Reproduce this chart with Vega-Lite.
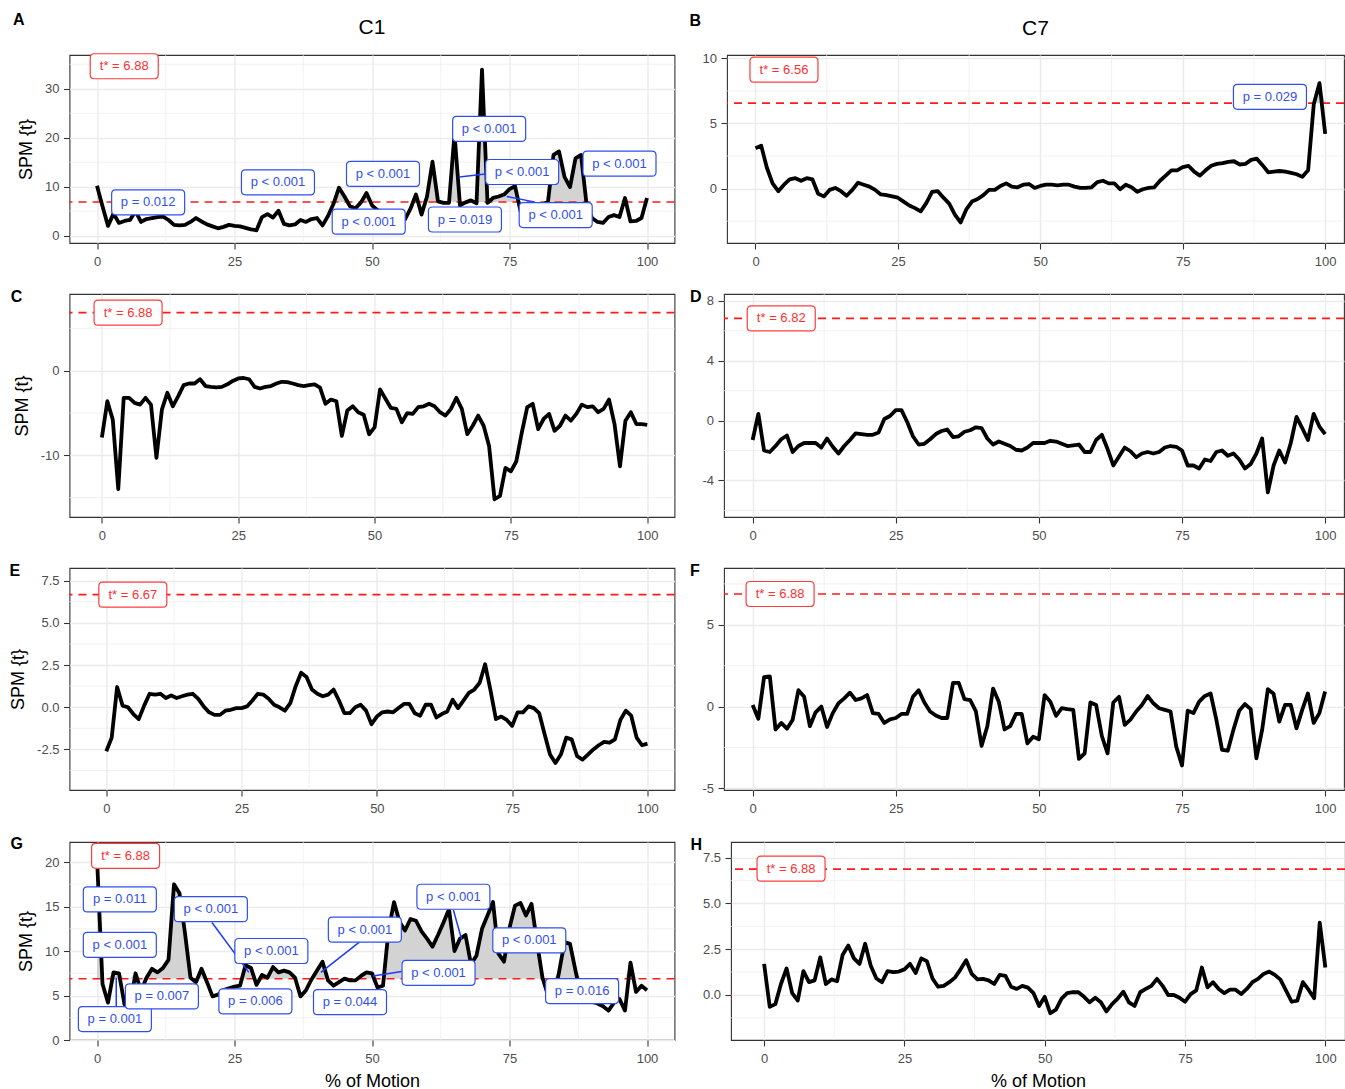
{
"$schema": "https://vega.github.io/schema/vega-lite/v6.json",
"background": "white",
"padding": {"left": 8.5, "top": 11, "right": 0, "bottom": 0},
"spacing": 19,
"align": "none",
"datasets": {
"A": [{"x":0,"t":10.2},{"x":1,"t":6.0},{"x":2,"t":2.0},{"x":3,"t":4.5},{"x":4,"t":2.6},{"x":5,"t":3.0},{"x":6,"t":3.2},{"x":7,"t":5.0},{"x":8,"t":2.8},{"x":9,"t":3.4},{"x":10,"t":3.6},{"x":11,"t":3.8},{"x":12,"t":3.9},{"x":13,"t":3.2},{"x":14,"t":2.2},{"x":15,"t":2.1},{"x":16,"t":2.2},{"x":17,"t":2.8},{"x":18,"t":3.6},{"x":19,"t":2.9},{"x":20,"t":2.3},{"x":21,"t":1.9},{"x":22,"t":1.5},{"x":23,"t":1.8},{"x":24,"t":2.2},{"x":25,"t":2.0},{"x":26,"t":1.9},{"x":27,"t":1.6},{"x":28,"t":1.3},{"x":29,"t":1.1},{"x":30,"t":3.8},{"x":31,"t":4.4},{"x":32,"t":3.7},{"x":33,"t":5.1},{"x":34,"t":2.4},{"x":35,"t":2.1},{"x":36,"t":2.3},{"x":37,"t":3.2},{"x":38,"t":2.8},{"x":39,"t":3.4},{"x":40,"t":3.6},{"x":41,"t":2.1},{"x":42,"t":4.0},{"x":43,"t":6.5},{"x":44,"t":9.8},{"x":45,"t":8.0},{"x":46,"t":6.0},{"x":47,"t":5.6},{"x":48,"t":6.8},{"x":49,"t":8.7},{"x":50,"t":6.2},{"x":51,"t":5.2},{"x":52,"t":4.5},{"x":53,"t":3.8},{"x":54,"t":3.5},{"x":55,"t":3.2},{"x":56,"t":3.3},{"x":57,"t":5.5},{"x":58,"t":8.4},{"x":59,"t":4.3},{"x":60,"t":8.0},{"x":61,"t":15.1},{"x":62,"t":7.0},{"x":63,"t":6.7},{"x":64,"t":6.7},{"x":65,"t":20.8},{"x":66,"t":6.2},{"x":67,"t":6.8},{"x":68,"t":7.2},{"x":69,"t":6.6},{"x":70,"t":33.9},{"x":71,"t":6.7},{"x":72,"t":7.7},{"x":73,"t":8.0},{"x":74,"t":8.4},{"x":75,"t":9.5},{"x":76,"t":10.1},{"x":77,"t":5.0},{"x":78,"t":6.0},{"x":79,"t":5.5},{"x":80,"t":5.3},{"x":81,"t":6.2},{"x":82,"t":7.0},{"x":83,"t":16.5},{"x":84,"t":17.2},{"x":85,"t":12.0},{"x":86,"t":9.9},{"x":87,"t":15.8},{"x":88,"t":16.5},{"x":89,"t":6.5},{"x":90,"t":3.6},{"x":91,"t":2.8},{"x":92,"t":2.6},{"x":93,"t":3.8},{"x":94,"t":4.2},{"x":95,"t":3.8},{"x":96,"t":7.7},{"x":97,"t":2.9},{"x":98,"t":3.0},{"x":99,"t":3.6},{"x":100,"t":7.7}],
"B": [{"x":0,"t":3.1},{"x":1,"t":3.3},{"x":2,"t":1.6},{"x":3,"t":0.4},{"x":4,"t":-0.2},{"x":5,"t":0.3},{"x":6,"t":0.7},{"x":7,"t":0.8},{"x":8,"t":0.6},{"x":9,"t":0.8},{"x":10,"t":0.7},{"x":11,"t":-0.4},{"x":12,"t":-0.6},{"x":13,"t":-0.1},{"x":14,"t":0.05},{"x":15,"t":-0.2},{"x":16,"t":-0.55},{"x":17,"t":-0.1},{"x":18,"t":0.45},{"x":19,"t":0.3},{"x":20,"t":0.15},{"x":21,"t":-0.1},{"x":22,"t":-0.45},{"x":23,"t":-0.5},{"x":24,"t":-0.6},{"x":25,"t":-0.7},{"x":26,"t":-1.0},{"x":27,"t":-1.3},{"x":28,"t":-1.5},{"x":29,"t":-1.75},{"x":30,"t":-1.1},{"x":31,"t":-0.25},{"x":32,"t":-0.2},{"x":33,"t":-0.7},{"x":34,"t":-1.15},{"x":35,"t":-2.0},{"x":36,"t":-2.6},{"x":37,"t":-1.6},{"x":38,"t":-1.0},{"x":39,"t":-0.8},{"x":40,"t":-0.5},{"x":41,"t":-0.1},{"x":42,"t":-0.1},{"x":43,"t":0.2},{"x":44,"t":0.4},{"x":45,"t":0.15},{"x":46,"t":0.1},{"x":47,"t":0.3},{"x":48,"t":0.35},{"x":49,"t":0.05},{"x":50,"t":0.2},{"x":51,"t":0.3},{"x":52,"t":0.3},{"x":53,"t":0.25},{"x":54,"t":0.3},{"x":55,"t":0.3},{"x":56,"t":0.15},{"x":57,"t":0.05},{"x":58,"t":0.05},{"x":59,"t":0.1},{"x":60,"t":0.5},{"x":61,"t":0.6},{"x":62,"t":0.4},{"x":63,"t":0.4},{"x":64,"t":-0.05},{"x":65,"t":0.3},{"x":66,"t":0.1},{"x":67,"t":-0.25},{"x":68,"t":-0.05},{"x":69,"t":0.05},{"x":70,"t":0.1},{"x":71,"t":0.6},{"x":72,"t":1.0},{"x":73,"t":1.4},{"x":74,"t":1.4},{"x":75,"t":1.65},{"x":76,"t":1.75},{"x":77,"t":1.3},{"x":78,"t":1.0},{"x":79,"t":1.4},{"x":80,"t":1.75},{"x":81,"t":1.9},{"x":82,"t":1.95},{"x":83,"t":2.05},{"x":84,"t":2.1},{"x":85,"t":1.85},{"x":86,"t":1.9},{"x":87,"t":2.2},{"x":88,"t":2.3},{"x":89,"t":1.8},{"x":90,"t":1.25},{"x":91,"t":1.3},{"x":92,"t":1.35},{"x":93,"t":1.3},{"x":94,"t":1.2},{"x":95,"t":1.1},{"x":96,"t":0.9},{"x":97,"t":1.4},{"x":98,"t":6.5},{"x":99,"t":8.1},{"x":100,"t":4.2}],
"C": [{"x":0,"t":-7.9},{"x":1,"t":-3.6},{"x":2,"t":-5.8},{"x":3,"t":-14.0},{"x":4,"t":-3.2},{"x":5,"t":-3.2},{"x":6,"t":-3.8},{"x":7,"t":-4.0},{"x":8,"t":-3.2},{"x":9,"t":-4.0},{"x":10,"t":-10.3},{"x":11,"t":-4.6},{"x":12,"t":-2.6},{"x":13,"t":-4.2},{"x":14,"t":-3.0},{"x":15,"t":-1.7},{"x":16,"t":-1.5},{"x":17,"t":-1.5},{"x":18,"t":-1.0},{"x":19,"t":-1.8},{"x":20,"t":-1.9},{"x":21,"t":-1.95},{"x":22,"t":-1.9},{"x":23,"t":-1.6},{"x":24,"t":-1.2},{"x":25,"t":-0.9},{"x":26,"t":-0.85},{"x":27,"t":-1.0},{"x":28,"t":-1.9},{"x":29,"t":-2.1},{"x":30,"t":-1.9},{"x":31,"t":-1.8},{"x":32,"t":-1.5},{"x":33,"t":-1.3},{"x":34,"t":-1.35},{"x":35,"t":-1.5},{"x":36,"t":-1.7},{"x":37,"t":-1.8},{"x":38,"t":-1.7},{"x":39,"t":-1.6},{"x":40,"t":-2.0},{"x":41,"t":-3.9},{"x":42,"t":-3.4},{"x":43,"t":-3.6},{"x":44,"t":-7.7},{"x":45,"t":-4.7},{"x":46,"t":-4.2},{"x":47,"t":-4.9},{"x":48,"t":-5.2},{"x":49,"t":-7.5},{"x":50,"t":-6.7},{"x":51,"t":-2.2},{"x":52,"t":-3.3},{"x":53,"t":-4.4},{"x":54,"t":-4.5},{"x":55,"t":-6.1},{"x":56,"t":-5.0},{"x":57,"t":-5.1},{"x":58,"t":-4.3},{"x":59,"t":-4.2},{"x":60,"t":-3.9},{"x":61,"t":-4.2},{"x":62,"t":-4.9},{"x":63,"t":-5.3},{"x":64,"t":-4.5},{"x":65,"t":-3.2},{"x":66,"t":-4.5},{"x":67,"t":-7.5},{"x":68,"t":-6.5},{"x":69,"t":-5.3},{"x":70,"t":-6.5},{"x":71,"t":-8.9},{"x":72,"t":-15.2},{"x":73,"t":-14.8},{"x":74,"t":-11.5},{"x":75,"t":-11.9},{"x":76,"t":-10.7},{"x":77,"t":-7.3},{"x":78,"t":-4.3},{"x":79,"t":-3.9},{"x":80,"t":-6.9},{"x":81,"t":-5.7},{"x":82,"t":-5.1},{"x":83,"t":-7.1},{"x":84,"t":-6.5},{"x":85,"t":-5.3},{"x":86,"t":-5.9},{"x":87,"t":-5.1},{"x":88,"t":-4.0},{"x":89,"t":-4.3},{"x":90,"t":-4.2},{"x":91,"t":-4.9},{"x":92,"t":-4.5},{"x":93,"t":-3.4},{"x":94,"t":-6.3},{"x":95,"t":-11.3},{"x":96,"t":-5.9},{"x":97,"t":-4.9},{"x":98,"t":-6.3},{"x":99,"t":-6.3},{"x":100,"t":-6.4}],
"D": [{"x":0,"t":-1.3},{"x":1,"t":0.45},{"x":2,"t":-2.0},{"x":3,"t":-2.1},{"x":4,"t":-1.7},{"x":5,"t":-1.25},{"x":6,"t":-1.0},{"x":7,"t":-2.1},{"x":8,"t":-1.7},{"x":9,"t":-1.5},{"x":10,"t":-1.5},{"x":11,"t":-1.5},{"x":12,"t":-1.8},{"x":13,"t":-1.2},{"x":14,"t":-1.75},{"x":15,"t":-2.2},{"x":16,"t":-1.7},{"x":17,"t":-1.3},{"x":18,"t":-0.85},{"x":19,"t":-0.9},{"x":20,"t":-0.95},{"x":21,"t":-0.95},{"x":22,"t":-0.8},{"x":23,"t":0.1},{"x":24,"t":0.3},{"x":25,"t":0.7},{"x":26,"t":0.7},{"x":27,"t":-0.1},{"x":28,"t":-1.05},{"x":29,"t":-1.6},{"x":30,"t":-1.55},{"x":31,"t":-1.25},{"x":32,"t":-0.9},{"x":33,"t":-0.7},{"x":34,"t":-0.6},{"x":35,"t":-1.1},{"x":36,"t":-1.05},{"x":37,"t":-0.75},{"x":38,"t":-0.65},{"x":39,"t":-0.45},{"x":40,"t":-0.5},{"x":41,"t":-1.2},{"x":42,"t":-1.6},{"x":43,"t":-1.4},{"x":44,"t":-1.55},{"x":45,"t":-1.7},{"x":46,"t":-1.95},{"x":47,"t":-2.0},{"x":48,"t":-1.8},{"x":49,"t":-1.5},{"x":50,"t":-1.5},{"x":51,"t":-1.5},{"x":52,"t":-1.35},{"x":53,"t":-1.4},{"x":54,"t":-1.55},{"x":55,"t":-1.7},{"x":56,"t":-1.65},{"x":57,"t":-1.6},{"x":58,"t":-2.1},{"x":59,"t":-2.1},{"x":60,"t":-1.3},{"x":61,"t":-0.95},{"x":62,"t":-1.9},{"x":63,"t":-3.0},{"x":64,"t":-2.4},{"x":65,"t":-1.8},{"x":66,"t":-2.05},{"x":67,"t":-2.45},{"x":68,"t":-2.2},{"x":69,"t":-2.1},{"x":70,"t":-2.2},{"x":71,"t":-2.1},{"x":72,"t":-1.8},{"x":73,"t":-1.7},{"x":74,"t":-1.75},{"x":75,"t":-2.0},{"x":76,"t":-3.0},{"x":77,"t":-3.0},{"x":78,"t":-3.2},{"x":79,"t":-2.6},{"x":80,"t":-2.7},{"x":81,"t":-2.1},{"x":82,"t":-2.0},{"x":83,"t":-2.35},{"x":84,"t":-2.2},{"x":85,"t":-2.6},{"x":86,"t":-3.2},{"x":87,"t":-2.9},{"x":88,"t":-2.2},{"x":89,"t":-1.2},{"x":90,"t":-4.8},{"x":91,"t":-3.0},{"x":92,"t":-2.0},{"x":93,"t":-2.8},{"x":94,"t":-1.5},{"x":95,"t":0.25},{"x":96,"t":-0.5},{"x":97,"t":-1.3},{"x":98,"t":0.45},{"x":99,"t":-0.4},{"x":100,"t":-0.9}],
"E": [{"x":0,"t":-2.6},{"x":1,"t":-1.8},{"x":2,"t":1.2},{"x":3,"t":0.1},{"x":4,"t":0.0},{"x":5,"t":-0.4},{"x":6,"t":-0.7},{"x":7,"t":0.1},{"x":8,"t":0.8},{"x":9,"t":0.75},{"x":10,"t":0.8},{"x":11,"t":0.55},{"x":12,"t":0.7},{"x":13,"t":0.55},{"x":14,"t":0.65},{"x":15,"t":0.75},{"x":16,"t":0.8},{"x":17,"t":0.5},{"x":18,"t":0.05},{"x":19,"t":-0.3},{"x":20,"t":-0.45},{"x":21,"t":-0.45},{"x":22,"t":-0.2},{"x":23,"t":-0.15},{"x":24,"t":-0.05},{"x":25,"t":-0.05},{"x":26,"t":0.05},{"x":27,"t":0.4},{"x":28,"t":0.8},{"x":29,"t":0.75},{"x":30,"t":0.5},{"x":31,"t":0.15},{"x":32,"t":0.0},{"x":33,"t":-0.2},{"x":34,"t":0.25},{"x":35,"t":1.25},{"x":36,"t":2.05},{"x":37,"t":1.8},{"x":38,"t":1.05},{"x":39,"t":0.8},{"x":40,"t":0.65},{"x":41,"t":0.75},{"x":42,"t":1.05},{"x":43,"t":0.4},{"x":44,"t":-0.35},{"x":45,"t":-0.35},{"x":46,"t":0.0},{"x":47,"t":0.15},{"x":48,"t":-0.2},{"x":49,"t":-1.0},{"x":50,"t":-0.55},{"x":51,"t":-0.3},{"x":52,"t":-0.25},{"x":53,"t":-0.3},{"x":54,"t":-0.05},{"x":55,"t":0.2},{"x":56,"t":0.2},{"x":57,"t":-0.35},{"x":58,"t":-0.5},{"x":59,"t":0.15},{"x":60,"t":0.15},{"x":61,"t":-0.6},{"x":62,"t":-0.4},{"x":63,"t":-0.25},{"x":64,"t":0.45},{"x":65,"t":-0.05},{"x":66,"t":0.4},{"x":67,"t":0.85},{"x":68,"t":1.05},{"x":69,"t":1.45},{"x":70,"t":2.55},{"x":71,"t":1.0},{"x":72,"t":-0.7},{"x":73,"t":-0.55},{"x":74,"t":-0.75},{"x":75,"t":-1.1},{"x":76,"t":-0.3},{"x":77,"t":-0.3},{"x":78,"t":0.05},{"x":79,"t":-0.05},{"x":80,"t":-0.35},{"x":81,"t":-1.6},{"x":82,"t":-2.8},{"x":83,"t":-3.3},{"x":84,"t":-2.8},{"x":85,"t":-1.8},{"x":86,"t":-1.9},{"x":87,"t":-2.9},{"x":88,"t":-3.1},{"x":89,"t":-2.8},{"x":90,"t":-2.5},{"x":91,"t":-2.25},{"x":92,"t":-2.05},{"x":93,"t":-2.1},{"x":94,"t":-1.9},{"x":95,"t":-0.75},{"x":96,"t":-0.2},{"x":97,"t":-0.5},{"x":98,"t":-1.8},{"x":99,"t":-2.25},{"x":100,"t":-2.15}],
"F": [{"x":0,"t":0.1},{"x":1,"t":-0.75},{"x":2,"t":1.8},{"x":3,"t":1.85},{"x":4,"t":-1.4},{"x":5,"t":-1.0},{"x":6,"t":-1.35},{"x":7,"t":-0.8},{"x":8,"t":1.0},{"x":9,"t":0.6},{"x":10,"t":-1.2},{"x":11,"t":-0.35},{"x":12,"t":0.0},{"x":13,"t":-1.25},{"x":14,"t":-0.4},{"x":15,"t":0.2},{"x":16,"t":0.5},{"x":17,"t":0.85},{"x":18,"t":0.4},{"x":19,"t":0.5},{"x":20,"t":0.7},{"x":21,"t":-0.4},{"x":22,"t":-0.45},{"x":23,"t":-1.0},{"x":24,"t":-0.78},{"x":25,"t":-0.7},{"x":26,"t":-0.45},{"x":27,"t":-0.45},{"x":28,"t":0.6},{"x":29,"t":1.0},{"x":30,"t":0.25},{"x":31,"t":-0.3},{"x":32,"t":-0.55},{"x":33,"t":-0.7},{"x":34,"t":-0.7},{"x":35,"t":1.45},{"x":36,"t":1.45},{"x":37,"t":0.45},{"x":38,"t":0.4},{"x":39,"t":-0.3},{"x":40,"t":-2.4},{"x":41,"t":-1.2},{"x":42,"t":1.1},{"x":43,"t":0.3},{"x":44,"t":-1.4},{"x":45,"t":-1.2},{"x":46,"t":-0.45},{"x":47,"t":-0.45},{"x":48,"t":-2.25},{"x":49,"t":-1.84},{"x":50,"t":-2.0},{"x":51,"t":0.7},{"x":52,"t":0.3},{"x":53,"t":-0.57},{"x":54,"t":-0.1},{"x":55,"t":-0.16},{"x":56,"t":-0.2},{"x":57,"t":-3.2},{"x":58,"t":-2.86},{"x":59,"t":0.25},{"x":60,"t":0.1},{"x":61,"t":-1.8},{"x":62,"t":-2.86},{"x":63,"t":0.25},{"x":64,"t":0.6},{"x":65,"t":-1.12},{"x":66,"t":-0.8},{"x":67,"t":-0.3},{"x":68,"t":0.1},{"x":69,"t":0.65},{"x":70,"t":0.2},{"x":71,"t":-0.1},{"x":72,"t":-0.2},{"x":73,"t":-0.3},{"x":74,"t":-2.45},{"x":75,"t":-3.6},{"x":76,"t":-0.25},{"x":77,"t":-0.4},{"x":78,"t":0.3},{"x":79,"t":0.65},{"x":80,"t":0.8},{"x":81,"t":-0.8},{"x":82,"t":-2.65},{"x":83,"t":-2.7},{"x":84,"t":-1.4},{"x":85,"t":-0.25},{"x":86,"t":0.15},{"x":87,"t":-0.16},{"x":88,"t":-3.16},{"x":89,"t":-1.43},{"x":90,"t":1.06},{"x":91,"t":0.78},{"x":92,"t":-0.92},{"x":93,"t":0.1},{"x":94,"t":0.1},{"x":95,"t":-1.33},{"x":96,"t":-0.2},{"x":97,"t":0.8},{"x":98,"t":-1.0},{"x":99,"t":-0.4},{"x":100,"t":0.92}],
"G": [{"x":0,"t":20.5},{"x":1,"t":6.3},{"x":2,"t":4.2},{"x":3,"t":7.6},{"x":4,"t":7.5},{"x":5,"t":4.0},{"x":6,"t":3.8},{"x":7,"t":7.5},{"x":8,"t":5.5},{"x":9,"t":7.0},{"x":10,"t":8.0},{"x":11,"t":7.6},{"x":12,"t":8.1},{"x":13,"t":9.0},{"x":14,"t":17.5},{"x":15,"t":16.5},{"x":16,"t":12.0},{"x":17,"t":7.0},{"x":18,"t":6.5},{"x":19,"t":8.0},{"x":20,"t":6.5},{"x":21,"t":4.9},{"x":22,"t":5.1},{"x":23,"t":5.6},{"x":24,"t":5.8},{"x":25,"t":6.0},{"x":26,"t":6.1},{"x":27,"t":8.4},{"x":28,"t":8.1},{"x":29,"t":6.2},{"x":30,"t":7.3},{"x":31,"t":7.0},{"x":32,"t":8.2},{"x":33,"t":7.6},{"x":34,"t":7.8},{"x":35,"t":7.6},{"x":36,"t":7.0},{"x":37,"t":4.9},{"x":38,"t":5.6},{"x":39,"t":6.8},{"x":40,"t":7.8},{"x":41,"t":8.8},{"x":42,"t":6.7},{"x":43,"t":6.1},{"x":44,"t":6.5},{"x":45,"t":6.9},{"x":46,"t":6.7},{"x":47,"t":6.7},{"x":48,"t":7.2},{"x":49,"t":7.6},{"x":50,"t":7.5},{"x":51,"t":5.9},{"x":52,"t":6.1},{"x":53,"t":12.3},{"x":54,"t":15.5},{"x":55,"t":13.3},{"x":56,"t":12.3},{"x":57,"t":13.6},{"x":58,"t":13.4},{"x":59,"t":12.2},{"x":60,"t":11.4},{"x":61,"t":10.5},{"x":62,"t":11.8},{"x":63,"t":13.2},{"x":64,"t":14.7},{"x":65,"t":10.0},{"x":66,"t":11.4},{"x":67,"t":11.8},{"x":68,"t":8.5},{"x":69,"t":9.5},{"x":70,"t":12.5},{"x":71,"t":14.0},{"x":72,"t":15.5},{"x":73,"t":9.7},{"x":74,"t":8.8},{"x":75,"t":12.6},{"x":76,"t":15.1},{"x":77,"t":15.4},{"x":78,"t":14.0},{"x":79,"t":15.3},{"x":80,"t":11.0},{"x":81,"t":7.0},{"x":82,"t":5.0},{"x":83,"t":4.5},{"x":84,"t":7.6},{"x":85,"t":11.0},{"x":86,"t":10.8},{"x":87,"t":7.8},{"x":88,"t":5.0},{"x":89,"t":4.6},{"x":90,"t":4.3},{"x":91,"t":4.1},{"x":92,"t":3.8},{"x":93,"t":3.3},{"x":94,"t":4.2},{"x":95,"t":4.6},{"x":96,"t":3.3},{"x":97,"t":8.7},{"x":98,"t":5.4},{"x":99,"t":6.1},{"x":100,"t":5.6}],
"H": [{"x":0,"t":1.7},{"x":1,"t":-0.65},{"x":2,"t":-0.5},{"x":3,"t":0.6},{"x":4,"t":1.45},{"x":5,"t":0.1},{"x":6,"t":-0.3},{"x":7,"t":1.3},{"x":8,"t":0.7},{"x":9,"t":0.8},{"x":10,"t":2.05},{"x":11,"t":0.6},{"x":12,"t":0.85},{"x":13,"t":0.75},{"x":14,"t":2.2},{"x":15,"t":2.7},{"x":16,"t":2.0},{"x":17,"t":1.7},{"x":18,"t":2.8},{"x":19,"t":1.6},{"x":20,"t":0.9},{"x":21,"t":0.7},{"x":22,"t":1.3},{"x":23,"t":1.25},{"x":24,"t":1.28},{"x":25,"t":1.4},{"x":26,"t":1.7},{"x":27,"t":1.2},{"x":28,"t":2.0},{"x":29,"t":1.85},{"x":30,"t":0.9},{"x":31,"t":0.45},{"x":32,"t":0.5},{"x":33,"t":0.7},{"x":34,"t":0.95},{"x":35,"t":1.4},{"x":36,"t":1.9},{"x":37,"t":1.15},{"x":38,"t":0.85},{"x":39,"t":0.88},{"x":40,"t":0.8},{"x":41,"t":0.6},{"x":42,"t":1.1},{"x":43,"t":1.05},{"x":44,"t":0.45},{"x":45,"t":0.33},{"x":46,"t":0.5},{"x":47,"t":0.4},{"x":48,"t":0.1},{"x":49,"t":-0.6},{"x":50,"t":-0.1},{"x":51,"t":-1.0},{"x":52,"t":-0.8},{"x":53,"t":-0.2},{"x":54,"t":0.1},{"x":55,"t":0.15},{"x":56,"t":0.15},{"x":57,"t":-0.1},{"x":58,"t":-0.4},{"x":59,"t":-0.15},{"x":60,"t":-0.4},{"x":61,"t":-0.9},{"x":62,"t":-0.5},{"x":63,"t":-0.2},{"x":64,"t":0.18},{"x":65,"t":-0.4},{"x":66,"t":-0.6},{"x":67,"t":0.15},{"x":68,"t":0.33},{"x":69,"t":0.5},{"x":70,"t":0.88},{"x":71,"t":0.5},{"x":72,"t":0.0},{"x":73,"t":0.0},{"x":74,"t":-0.15},{"x":75,"t":-0.37},{"x":76,"t":0.05},{"x":77,"t":0.25},{"x":78,"t":1.5},{"x":79,"t":0.42},{"x":80,"t":0.7},{"x":81,"t":0.33},{"x":82,"t":0.1},{"x":83,"t":0.29},{"x":84,"t":0.29},{"x":85,"t":0.05},{"x":86,"t":0.33},{"x":87,"t":0.7},{"x":88,"t":0.88},{"x":89,"t":1.15},{"x":90,"t":1.28},{"x":91,"t":1.1},{"x":92,"t":0.84},{"x":93,"t":0.24},{"x":94,"t":-0.37},{"x":95,"t":-0.31},{"x":96,"t":0.7},{"x":97,"t":0.29},{"x":98,"t":-0.18},{"x":99,"t":3.95},{"x":100,"t":1.5}],
"lab": [
{"p":"A","k":"t","x":4.95,"y":34.6,"text":"t* = 6.88"},
{"p":"A","k":"p","x":9.3,"y":6.8,"text":"p = 0.012"},
{"p":"A","k":"p","x":32.9,"y":10.9,"text":"p < 0.001"},
{"p":"A","k":"p","x":52.0,"y":12.6,"text":"p < 0.001"},
{"p":"A","k":"p","x":49.4,"y":2.85,"text":"p < 0.001"},
{"p":"A","k":"p","x":71.3,"y":21.8,"text":"p < 0.001"},
{"p":"A","k":"p","x":77.3,"y":13.0,"text":"p < 0.001"},
{"p":"A","k":"p","x":66.9,"y":3.3,"text":"p = 0.019"},
{"p":"A","k":"p","x":83.4,"y":4.2,"text":"p < 0.001"},
{"p":"A","k":"p","x":95.0,"y":14.7,"text":"p < 0.001"},
{"p":"B","k":"t","x":5.0,"y":9.13,"text":"t* = 6.56"},
{"p":"B","k":"p","x":90.3,"y":7.05,"text":"p = 0.029"},
{"p":"C","k":"t","x":4.8,"y":6.88,"text":"t* = 6.88"},
{"p":"D","k":"t","x":5.0,"y":6.82,"text":"t* = 6.82"},
{"p":"E","k":"t","x":4.9,"y":6.67,"text":"t* = 6.67"},
{"p":"F","k":"t","x":4.8,"y":6.88,"text":"t* = 6.88"},
{"p":"G","k":"t","x":5.2,"y":20.7,"text":"t* = 6.88"},
{"p":"G","k":"p","x":4.15,"y":15.8,"text":"p = 0.011"},
{"p":"G","k":"p","x":4.15,"y":10.7,"text":"p < 0.001"},
{"p":"G","k":"p","x":3.25,"y":2.35,"text":"p = 0.001"},
{"p":"G","k":"p","x":11.8,"y":4.9,"text":"p = 0.007"},
{"p":"G","k":"p","x":20.7,"y":14.7,"text":"p < 0.001"},
{"p":"G","k":"p","x":31.7,"y":10.0,"text":"p < 0.001"},
{"p":"G","k":"p","x":28.8,"y":4.35,"text":"p = 0.006"},
{"p":"G","k":"p","x":48.7,"y":12.4,"text":"p < 0.001"},
{"p":"G","k":"p","x":46.0,"y":4.25,"text":"p = 0.044"},
{"p":"G","k":"p","x":62.1,"y":7.55,"text":"p < 0.001"},
{"p":"G","k":"p","x":64.8,"y":16.1,"text":"p < 0.001"},
{"p":"G","k":"p","x":78.6,"y":11.2,"text":"p < 0.001"},
{"p":"G","k":"p","x":88.2,"y":5.5,"text":"p = 0.016"},
{"p":"H","k":"t","x":4.8,"y":6.9,"text":"t* = 6.88"}
],
"seg": [
{"p":"A","x":65.9,"y":12.0,"x2":70.6,"y2":12.6},
{"p":"A","x":74.5,"y":8.0,"x2":79.5,"y2":6.9},
{"p":"G","x":3.5,"y":7.0,"x2":3.5,"y2":3.8},
{"p":"G","x":20.9,"y":13.2,"x2":27.6,"y2":7.6},
{"p":"G","x":47.7,"y":11.0,"x2":40.7,"y2":7.6},
{"p":"G","x":50.2,"y":7.2,"x2":55.4,"y2":7.7},
{"p":"G","x":64.8,"y":14.6,"x2":66.3,"y2":11.3}
]
},
"vconcat": [
{"spacing": 12.5, "hconcat": [
 {"title": {"text": "A", "anchor": "start", "frame": "bounds", "fontSize": 16, "fontWeight": "bold", "offset": 0, "dy": 11, "dx": -4},
  "vconcat": [
  {"width": 605, "height": 188,
   "title": {"text": "C1", "fontSize": 21, "fontWeight": "normal", "anchor": "middle", "frame": "group", "offset": 13},
   "layer": [
    {"data": {"values": [{"v":12.5},{"v":37.5},{"v":62.5},{"v":87.5}]}, "mark": {"type": "rule", "color": "#ebebeb", "strokeWidth": 0.7}, "encoding": {"x": {"field": "v", "type": "quantitative"}}},
    {"data": {"values": [{"v":5},{"v":15},{"v":25},{"v":35}]}, "mark": {"type": "rule", "color": "#ebebeb", "strokeWidth": 0.7}, "encoding": {"y": {"field": "v", "type": "quantitative"}}},
    {"data": {"name": "A"}, "transform": [{"calculate": "max(datum.t, 6.88)", "as": "s"}], "mark": {"type": "area", "color": "#d3d3d3", "opacity": 1}, "encoding": {"x": {"field": "x", "type": "quantitative"}, "y": {"field": "s", "type": "quantitative"}, "y2": {"datum": 6.88}}},
    {"data": {"values": [{}]}, "mark": {"type": "rule", "color": "#ff1a1a", "strokeWidth": 1.6, "strokeDash": [8, 6]}, "encoding": {"y": {"datum": 6.88}}},
    {"data": {"name": "A"}, "mark": {"type": "line", "color": "#000000", "strokeWidth": 3.8, "strokeJoin": "round"}, "encoding": {"x": {"field": "x", "type": "quantitative", "scale": {"domain": [-5, 105], "nice": false, "zero": false}, "axis": {"values": [0, 25, 50, 75, 100], "title": null}}, "y": {"field": "t", "type": "quantitative", "scale": {"domain": [-1.5, 36.9], "nice": false, "zero": false}, "axis": {"values": [0, 10, 20, 30], "title": "SPM {t}"}}}},
    {"data": {"name": "seg"}, "transform": [{"filter": "datum.p == 'A'"}], "mark": {"type": "rule", "color": "#1a3cff", "strokeWidth": 1.5}, "encoding": {"x": {"field": "x", "type": "quantitative"}, "y": {"field": "y", "type": "quantitative"}, "x2": {"field": "x2"}, "y2": {"field": "y2"}}},
    {"data": {"name": "lab"}, "transform": [{"filter": "datum.p == 'A' && datum.k == 'p'"}], "mark": {"type": "point", "shape": "M-0.89,-0.3425L0.89,-0.3425Q1,-0.3425 1,-0.233L1,0.233Q1,0.3425 0.89,0.3425L-0.89,0.3425Q-1,0.3425 -1,0.233L-1,-0.233Q-1,-0.3425 -0.89,-0.3425Z", "size": 5329, "filled": true, "fill": "#ffffff", "stroke": "#2f4ff0", "strokeWidth": 1.2, "opacity": 1}, "encoding": {"x": {"field": "x", "type": "quantitative"}, "y": {"field": "y", "type": "quantitative"}}},
    {"data": {"name": "lab"}, "transform": [{"filter": "datum.p == 'A' && datum.k == 'p'"}], "mark": {"type": "text", "fontSize": 13, "color": "#2f4ff0"}, "encoding": {"x": {"field": "x", "type": "quantitative"}, "y": {"field": "y", "type": "quantitative"}, "text": {"field": "text"}}},
    {"data": {"name": "lab"}, "transform": [{"filter": "datum.p == 'A' && datum.k == 't'"}], "mark": {"type": "point", "shape": "M-0.882,-0.3676L0.882,-0.3676Q1,-0.3676 1,-0.25L1,0.25Q1,0.3676 0.882,0.3676L-0.882,0.3676Q-1,0.3676 -1,0.25L-1,-0.25Q-1,-0.3676 -0.882,-0.3676Z", "size": 4624, "filled": true, "fill": "#ffffff", "stroke": "#ff3c3c", "strokeWidth": 1.2, "opacity": 1}, "encoding": {"x": {"field": "x", "type": "quantitative"}, "y": {"field": "y", "type": "quantitative"}}},
    {"data": {"name": "lab"}, "transform": [{"filter": "datum.p == 'A' && datum.k == 't'"}], "mark": {"type": "text", "fontSize": 13, "color": "#ff3030"}, "encoding": {"x": {"field": "x", "type": "quantitative"}, "y": {"field": "y", "type": "quantitative"}, "text": {"field": "text"}}}
   ]}
 ]},
 {"title": {"text": "B", "anchor": "start", "frame": "bounds", "fontSize": 16, "fontWeight": "bold", "offset": 0, "dy": 11, "dx": -12},
  "vconcat": [
  {"width": 617, "height": 188,
   "title": {"text": "C7", "fontSize": 21, "fontWeight": "normal", "anchor": "middle", "frame": "group", "offset": 13},
   "layer": [
    {"data": {"values": [{"v":12.5},{"v":37.5},{"v":62.5},{"v":87.5}]}, "mark": {"type": "rule", "color": "#ebebeb", "strokeWidth": 0.7}, "encoding": {"x": {"field": "v", "type": "quantitative"}}},
    {"data": {"values": [{"v":-2.5},{"v":2.5},{"v":7.5}]}, "mark": {"type": "rule", "color": "#ebebeb", "strokeWidth": 0.7}, "encoding": {"y": {"field": "v", "type": "quantitative"}}},
    {"data": {"name": "B"}, "transform": [{"calculate": "max(datum.t, 6.56)", "as": "s"}], "mark": {"type": "area", "color": "#d3d3d3", "opacity": 1}, "encoding": {"x": {"field": "x", "type": "quantitative"}, "y": {"field": "s", "type": "quantitative"}, "y2": {"datum": 6.56}}},
    {"data": {"values": [{}]}, "mark": {"type": "rule", "color": "#ff1a1a", "strokeWidth": 1.6, "strokeDash": [8, 6]}, "encoding": {"y": {"datum": 6.56}}},
    {"data": {"name": "B"}, "mark": {"type": "line", "color": "#000000", "strokeWidth": 3.8, "strokeJoin": "round"}, "encoding": {"x": {"field": "x", "type": "quantitative", "scale": {"domain": [-5, 103.3], "nice": false, "zero": false}, "axis": {"values": [0, 25, 50, 75, 100], "title": null}}, "y": {"field": "t", "type": "quantitative", "scale": {"domain": [-4.18, 10.26], "nice": false, "zero": false}, "axis": {"values": [0, 5, 10], "title": null}}}},
    {"data": {"name": "lab"}, "transform": [{"filter": "datum.p == 'B' && datum.k == 'p'"}], "mark": {"type": "point", "shape": "M-0.89,-0.3425L0.89,-0.3425Q1,-0.3425 1,-0.233L1,0.233Q1,0.3425 0.89,0.3425L-0.89,0.3425Q-1,0.3425 -1,0.233L-1,-0.233Q-1,-0.3425 -0.89,-0.3425Z", "size": 5329, "filled": true, "fill": "#ffffff", "stroke": "#2f4ff0", "strokeWidth": 1.2, "opacity": 1}, "encoding": {"x": {"field": "x", "type": "quantitative"}, "y": {"field": "y", "type": "quantitative"}}},
    {"data": {"name": "lab"}, "transform": [{"filter": "datum.p == 'B' && datum.k == 'p'"}], "mark": {"type": "text", "fontSize": 13, "color": "#2f4ff0"}, "encoding": {"x": {"field": "x", "type": "quantitative"}, "y": {"field": "y", "type": "quantitative"}, "text": {"field": "text"}}},
    {"data": {"name": "lab"}, "transform": [{"filter": "datum.p == 'B' && datum.k == 't'"}], "mark": {"type": "point", "shape": "M-0.882,-0.3676L0.882,-0.3676Q1,-0.3676 1,-0.25L1,0.25Q1,0.3676 0.882,0.3676L-0.882,0.3676Q-1,0.3676 -1,0.25L-1,-0.25Q-1,-0.3676 -0.882,-0.3676Z", "size": 4624, "filled": true, "fill": "#ffffff", "stroke": "#ff3c3c", "strokeWidth": 1.2, "opacity": 1}, "encoding": {"x": {"field": "x", "type": "quantitative"}, "y": {"field": "y", "type": "quantitative"}}},
    {"data": {"name": "lab"}, "transform": [{"filter": "datum.p == 'B' && datum.k == 't'"}], "mark": {"type": "text", "fontSize": 13, "color": "#ff3030"}, "encoding": {"x": {"field": "x", "type": "quantitative"}, "y": {"field": "y", "type": "quantitative"}, "text": {"field": "text"}}}
   ]}
 ]}
]},
{"spacing": 12.5, "hconcat": [
  {"width": 605, "height": 223,
   "title": {"text": "C", "anchor": "start", "frame": "bounds", "fontSize": 16, "fontWeight": "bold", "offset": 0, "dy": 11, "dx": -2.5},
   "layer": [
    {"data": {"values": [{"v":12.5},{"v":37.5},{"v":62.5},{"v":87.5}]}, "mark": {"type": "rule", "color": "#ebebeb", "strokeWidth": 0.7}, "encoding": {"x": {"field": "v", "type": "quantitative"}}},
    {"data": {"values": [{"v":-15},{"v":-5},{"v":5}]}, "mark": {"type": "rule", "color": "#ebebeb", "strokeWidth": 0.7}, "encoding": {"y": {"field": "v", "type": "quantitative"}}},
    {"data": {"values": [{}]}, "mark": {"type": "rule", "color": "#ff1a1a", "strokeWidth": 1.6, "strokeDash": [8, 6]}, "encoding": {"y": {"datum": 6.88}}},
    {"data": {"name": "C"}, "mark": {"type": "line", "color": "#000000", "strokeWidth": 3.8, "strokeJoin": "round"}, "encoding": {"x": {"field": "x", "type": "quantitative", "scale": {"domain": [-5.94, 105], "nice": false, "zero": false}, "axis": {"values": [0, 25, 50, 75, 100], "title": null}}, "y": {"field": "t", "type": "quantitative", "scale": {"domain": [-17.3, 9.09], "nice": false, "zero": false}, "axis": {"values": [-10, 0], "title": "SPM {t}", "labelExpr": "replace(datum.label, '\u2212', '-')"}}}},
    {"data": {"name": "lab"}, "transform": [{"filter": "datum.p == 'C' && datum.k == 't'"}], "mark": {"type": "point", "shape": "M-0.882,-0.3676L0.882,-0.3676Q1,-0.3676 1,-0.25L1,0.25Q1,0.3676 0.882,0.3676L-0.882,0.3676Q-1,0.3676 -1,0.25L-1,-0.25Q-1,-0.3676 -0.882,-0.3676Z", "size": 4624, "filled": true, "fill": "#ffffff", "stroke": "#ff3c3c", "strokeWidth": 1.2, "opacity": 1}, "encoding": {"x": {"field": "x", "type": "quantitative"}, "y": {"field": "y", "type": "quantitative"}}},
    {"data": {"name": "lab"}, "transform": [{"filter": "datum.p == 'C' && datum.k == 't'"}], "mark": {"type": "text", "fontSize": 13, "color": "#ff3030"}, "encoding": {"x": {"field": "x", "type": "quantitative"}, "y": {"field": "y", "type": "quantitative"}, "text": {"field": "text"}}}
   ]},
  {"width": 620, "height": 223,
   "title": {"text": "D", "anchor": "start", "frame": "bounds", "fontSize": 16, "fontWeight": "bold", "offset": 0, "dy": 11, "dx": -12},
   "layer": [
    {"data": {"values": [{"v":12.5},{"v":37.5},{"v":62.5},{"v":87.5}]}, "mark": {"type": "rule", "color": "#ebebeb", "strokeWidth": 0.7}, "encoding": {"x": {"field": "v", "type": "quantitative"}}},
    {"data": {"values": [{"v":-6},{"v":-2},{"v":2},{"v":6}]}, "mark": {"type": "rule", "color": "#ebebeb", "strokeWidth": 0.7}, "encoding": {"y": {"field": "v", "type": "quantitative"}}},
    {"data": {"values": [{}]}, "mark": {"type": "rule", "color": "#ff1a1a", "strokeWidth": 1.6, "strokeDash": [8, 6]}, "encoding": {"y": {"datum": 6.82}}},
    {"data": {"name": "D"}, "mark": {"type": "line", "color": "#000000", "strokeWidth": 3.8, "strokeJoin": "round"}, "encoding": {"x": {"field": "x", "type": "quantitative", "scale": {"domain": [-5, 103.3], "nice": false, "zero": false}, "axis": {"values": [0, 25, 50, 75, 100], "title": null}}, "y": {"field": "t", "type": "quantitative", "scale": {"domain": [-6.44, 8.45], "nice": false, "zero": false}, "axis": {"values": [-4, 0, 4, 8], "title": null, "labelExpr": "replace(datum.label, '\u2212', '-')"}}}},
    {"data": {"name": "lab"}, "transform": [{"filter": "datum.p == 'D' && datum.k == 't'"}], "mark": {"type": "point", "shape": "M-0.882,-0.3676L0.882,-0.3676Q1,-0.3676 1,-0.25L1,0.25Q1,0.3676 0.882,0.3676L-0.882,0.3676Q-1,0.3676 -1,0.25L-1,-0.25Q-1,-0.3676 -0.882,-0.3676Z", "size": 4624, "filled": true, "fill": "#ffffff", "stroke": "#ff3c3c", "strokeWidth": 1.2, "opacity": 1}, "encoding": {"x": {"field": "x", "type": "quantitative"}, "y": {"field": "y", "type": "quantitative"}}},
    {"data": {"name": "lab"}, "transform": [{"filter": "datum.p == 'D' && datum.k == 't'"}], "mark": {"type": "text", "fontSize": 13, "color": "#ff3030"}, "encoding": {"x": {"field": "x", "type": "quantitative"}, "y": {"field": "y", "type": "quantitative"}, "text": {"field": "text"}}}
   ]}
]},
{"spacing": 12.5, "hconcat": [
  {"width": 605, "height": 222,
   "title": {"text": "E", "anchor": "start", "frame": "bounds", "fontSize": 16, "fontWeight": "bold", "offset": 0, "dy": 11},
   "layer": [
    {"data": {"values": [{"v":12.5},{"v":37.5},{"v":62.5},{"v":87.5}]}, "mark": {"type": "rule", "color": "#ebebeb", "strokeWidth": 0.7}, "encoding": {"x": {"field": "v", "type": "quantitative"}}},
    {"data": {"values": [{"v":-3.75},{"v":-1.25},{"v":1.25},{"v":3.75},{"v":6.25}]}, "mark": {"type": "rule", "color": "#ebebeb", "strokeWidth": 0.7}, "encoding": {"y": {"field": "v", "type": "quantitative"}}},
    {"data": {"values": [{}]}, "mark": {"type": "rule", "color": "#ff1a1a", "strokeWidth": 1.6, "strokeDash": [8, 6]}, "encoding": {"y": {"datum": 6.67}}},
    {"data": {"name": "E"}, "mark": {"type": "line", "color": "#000000", "strokeWidth": 3.8, "strokeJoin": "round"}, "encoding": {"x": {"field": "x", "type": "quantitative", "scale": {"domain": [-6.8, 105], "nice": false, "zero": false}, "axis": {"values": [0, 25, 50, 75, 100], "title": null}}, "y": {"field": "t", "type": "quantitative", "scale": {"domain": [-4.9, 8.25], "nice": false, "zero": false}, "axis": {"values": [-2.5, 0, 2.5, 5, 7.5], "format": ".1f", "title": "SPM {t}", "labelExpr": "replace(datum.label, '\u2212', '-')"}}}},
    {"data": {"name": "lab"}, "transform": [{"filter": "datum.p == 'E' && datum.k == 't'"}], "mark": {"type": "point", "shape": "M-0.882,-0.3676L0.882,-0.3676Q1,-0.3676 1,-0.25L1,0.25Q1,0.3676 0.882,0.3676L-0.882,0.3676Q-1,0.3676 -1,0.25L-1,-0.25Q-1,-0.3676 -0.882,-0.3676Z", "size": 4624, "filled": true, "fill": "#ffffff", "stroke": "#ff3c3c", "strokeWidth": 1.2, "opacity": 1}, "encoding": {"x": {"field": "x", "type": "quantitative"}, "y": {"field": "y", "type": "quantitative"}}},
    {"data": {"name": "lab"}, "transform": [{"filter": "datum.p == 'E' && datum.k == 't'"}], "mark": {"type": "text", "fontSize": 13, "color": "#ff3030"}, "encoding": {"x": {"field": "x", "type": "quantitative"}, "y": {"field": "y", "type": "quantitative"}, "text": {"field": "text"}}}
   ]},
  {"width": 620, "height": 222,
   "title": {"text": "F", "anchor": "start", "frame": "bounds", "fontSize": 16, "fontWeight": "bold", "offset": 0, "dy": 11, "dx": -12},
   "layer": [
    {"data": {"values": [{"v":12.5},{"v":37.5},{"v":62.5},{"v":87.5}]}, "mark": {"type": "rule", "color": "#ebebeb", "strokeWidth": 0.7}, "encoding": {"x": {"field": "v", "type": "quantitative"}}},
    {"data": {"values": [{"v":-2.5},{"v":2.5},{"v":7.5}]}, "mark": {"type": "rule", "color": "#ebebeb", "strokeWidth": 0.7}, "encoding": {"y": {"field": "v", "type": "quantitative"}}},
    {"data": {"values": [{}]}, "mark": {"type": "rule", "color": "#ff1a1a", "strokeWidth": 1.6, "strokeDash": [8, 6]}, "encoding": {"y": {"datum": 6.88}}},
    {"data": {"name": "F"}, "mark": {"type": "line", "color": "#000000", "strokeWidth": 3.8, "strokeJoin": "round"}, "encoding": {"x": {"field": "x", "type": "quantitative", "scale": {"domain": [-5, 103.3], "nice": false, "zero": false}, "axis": {"values": [0, 25, 50, 75, 100], "title": null}}, "y": {"field": "t", "type": "quantitative", "scale": {"domain": [-5.1, 8.47], "nice": false, "zero": false}, "axis": {"values": [-5, 0, 5], "title": null, "labelExpr": "replace(datum.label, '\u2212', '-')"}}}},
    {"data": {"name": "lab"}, "transform": [{"filter": "datum.p == 'F' && datum.k == 't'"}], "mark": {"type": "point", "shape": "M-0.882,-0.3676L0.882,-0.3676Q1,-0.3676 1,-0.25L1,0.25Q1,0.3676 0.882,0.3676L-0.882,0.3676Q-1,0.3676 -1,0.25L-1,-0.25Q-1,-0.3676 -0.882,-0.3676Z", "size": 4624, "filled": true, "fill": "#ffffff", "stroke": "#ff3c3c", "strokeWidth": 1.2, "opacity": 1}, "encoding": {"x": {"field": "x", "type": "quantitative"}, "y": {"field": "y", "type": "quantitative"}}},
    {"data": {"name": "lab"}, "transform": [{"filter": "datum.p == 'F' && datum.k == 't'"}], "mark": {"type": "text", "fontSize": 13, "color": "#ff3030"}, "encoding": {"x": {"field": "x", "type": "quantitative"}, "y": {"field": "y", "type": "quantitative"}, "text": {"field": "text"}}}
   ]}
]},
{"spacing": 12.5, "hconcat": [
  {"width": 605, "height": 198,
   "title": {"text": "G", "anchor": "start", "frame": "bounds", "fontSize": 16, "fontWeight": "bold", "offset": 0, "dy": 11, "dx": -7},
   "layer": [
    {"data": {"values": [{"v":12.5},{"v":37.5},{"v":62.5},{"v":87.5}]}, "mark": {"type": "rule", "color": "#ebebeb", "strokeWidth": 0.7}, "encoding": {"x": {"field": "v", "type": "quantitative"}}},
    {"data": {"values": [{"v":2.5},{"v":7.5},{"v":12.5},{"v":17.5}]}, "mark": {"type": "rule", "color": "#ebebeb", "strokeWidth": 0.7}, "encoding": {"y": {"field": "v", "type": "quantitative"}}},
    {"data": {"name": "G"}, "transform": [{"calculate": "max(datum.t, 6.88)", "as": "s"}], "mark": {"type": "area", "color": "#d3d3d3", "opacity": 1}, "encoding": {"x": {"field": "x", "type": "quantitative"}, "y": {"field": "s", "type": "quantitative"}, "y2": {"datum": 6.88}}},
    {"data": {"values": [{}]}, "mark": {"type": "rule", "color": "#ff1a1a", "strokeWidth": 1.6, "strokeDash": [8, 6]}, "encoding": {"y": {"datum": 6.88}}},
    {"data": {"name": "G"}, "mark": {"type": "line", "color": "#000000", "strokeWidth": 3.8, "strokeJoin": "round"}, "encoding": {"x": {"field": "x", "type": "quantitative", "scale": {"domain": [-5, 105], "nice": false, "zero": false}, "axis": {"values": [0, 25, 50, 75, 100], "title": "% of Motion"}}, "y": {"field": "t", "type": "quantitative", "scale": {"domain": [0, 22.25], "nice": false, "zero": false}, "axis": {"values": [0, 5, 10, 15, 20], "title": "SPM {t}"}}}},
    {"data": {"name": "seg"}, "transform": [{"filter": "datum.p == 'G'"}], "mark": {"type": "rule", "color": "#1a3cff", "strokeWidth": 1.5}, "encoding": {"x": {"field": "x", "type": "quantitative"}, "y": {"field": "y", "type": "quantitative"}, "x2": {"field": "x2"}, "y2": {"field": "y2"}}},
    {"data": {"name": "lab"}, "transform": [{"filter": "datum.p == 'G' && datum.k == 'p'"}], "mark": {"type": "point", "shape": "M-0.89,-0.3425L0.89,-0.3425Q1,-0.3425 1,-0.233L1,0.233Q1,0.3425 0.89,0.3425L-0.89,0.3425Q-1,0.3425 -1,0.233L-1,-0.233Q-1,-0.3425 -0.89,-0.3425Z", "size": 5329, "filled": true, "fill": "#ffffff", "stroke": "#2f4ff0", "strokeWidth": 1.2, "opacity": 1}, "encoding": {"x": {"field": "x", "type": "quantitative"}, "y": {"field": "y", "type": "quantitative"}}},
    {"data": {"name": "lab"}, "transform": [{"filter": "datum.p == 'G' && datum.k == 'p'"}], "mark": {"type": "text", "fontSize": 13, "color": "#2f4ff0"}, "encoding": {"x": {"field": "x", "type": "quantitative"}, "y": {"field": "y", "type": "quantitative"}, "text": {"field": "text"}}},
    {"data": {"name": "lab"}, "transform": [{"filter": "datum.p == 'G' && datum.k == 't'"}], "mark": {"type": "point", "shape": "M-0.882,-0.3676L0.882,-0.3676Q1,-0.3676 1,-0.25L1,0.25Q1,0.3676 0.882,0.3676L-0.882,0.3676Q-1,0.3676 -1,0.25L-1,-0.25Q-1,-0.3676 -0.882,-0.3676Z", "size": 4624, "filled": true, "fill": "#ffffff", "stroke": "#ff3c3c", "strokeWidth": 1.2, "opacity": 1}, "encoding": {"x": {"field": "x", "type": "quantitative"}, "y": {"field": "y", "type": "quantitative"}}},
    {"data": {"name": "lab"}, "transform": [{"filter": "datum.p == 'G' && datum.k == 't'"}], "mark": {"type": "text", "fontSize": 13, "color": "#ff3030"}, "encoding": {"x": {"field": "x", "type": "quantitative"}, "y": {"field": "y", "type": "quantitative"}, "text": {"field": "text"}}}
   ]},
  {"width": 614, "height": 198,
   "title": {"text": "H", "anchor": "start", "frame": "bounds", "fontSize": 16, "fontWeight": "bold", "offset": 0, "dy": 11, "dx": -12},
   "layer": [
    {"data": {"values": [{"v":12.5},{"v":37.5},{"v":62.5},{"v":87.5}]}, "mark": {"type": "rule", "color": "#ebebeb", "strokeWidth": 0.7}, "encoding": {"x": {"field": "v", "type": "quantitative"}}},
    {"data": {"values": [{"v":-1.25},{"v":1.25},{"v":3.75},{"v":6.25}]}, "mark": {"type": "rule", "color": "#ebebeb", "strokeWidth": 0.7}, "encoding": {"y": {"field": "v", "type": "quantitative"}}},
    {"data": {"values": [{}]}, "mark": {"type": "rule", "color": "#ff1a1a", "strokeWidth": 1.6, "strokeDash": [8, 6]}, "encoding": {"y": {"datum": 6.88}}},
    {"data": {"name": "H"}, "mark": {"type": "line", "color": "#000000", "strokeWidth": 3.8, "strokeJoin": "round"}, "encoding": {"x": {"field": "x", "type": "quantitative", "scale": {"domain": [-5.9, 103.5], "nice": false, "zero": false}, "axis": {"values": [0, 25, 50, 75, 100], "title": "% of Motion"}}, "y": {"field": "t", "type": "quantitative", "scale": {"domain": [-2.46, 8.36], "nice": false, "zero": false}, "axis": {"values": [-2.5, 0, 2.5, 5, 7.5], "format": ".1f", "title": null, "labelExpr": "replace(datum.label, '\u2212', '-')"}}}},
    {"data": {"name": "lab"}, "transform": [{"filter": "datum.p == 'H' && datum.k == 't'"}], "mark": {"type": "point", "shape": "M-0.882,-0.3676L0.882,-0.3676Q1,-0.3676 1,-0.25L1,0.25Q1,0.3676 0.882,0.3676L-0.882,0.3676Q-1,0.3676 -1,0.25L-1,-0.25Q-1,-0.3676 -0.882,-0.3676Z", "size": 4624, "filled": true, "fill": "#ffffff", "stroke": "#ff3c3c", "strokeWidth": 1.2, "opacity": 1}, "encoding": {"x": {"field": "x", "type": "quantitative"}, "y": {"field": "y", "type": "quantitative"}}},
    {"data": {"name": "lab"}, "transform": [{"filter": "datum.p == 'H' && datum.k == 't'"}], "mark": {"type": "text", "fontSize": 13, "color": "#ff3030"}, "encoding": {"x": {"field": "x", "type": "quantitative"}, "y": {"field": "y", "type": "quantitative"}, "text": {"field": "text"}}}
   ]}
]}
],
"config": {
 "font": "Liberation Sans",
 "view": {"stroke": "#333333", "strokeWidth": 1.1},
 "axis": {"domain": false, "grid": true, "gridColor": "#ebebeb", "gridWidth": 1.4, "tickColor": "#333333", "tickSize": 6, "tickWidth": 1.1, "labelColor": "#4d4d4d", "labelFontSize": 13, "labelFont": "Liberation Sans", "titleFont": "Liberation Sans", "titleFontSize": 18, "titleFontWeight": "normal", "titleColor": "#000000", "labelFlush": false, "labelOverlap": false},
 "axisX": {"labelPadding": 6, "titlePadding": 7},
 "axisY": {"labelPadding": 4.5, "titlePadding": 9},
 "title": {"font": "Liberation Sans", "color": "#000000"}
}
}
